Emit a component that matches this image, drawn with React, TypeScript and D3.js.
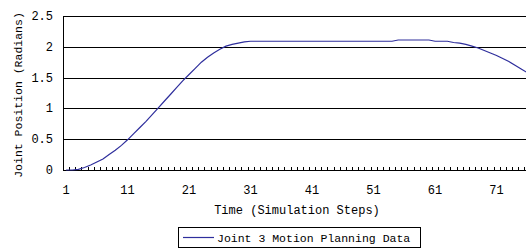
import React, { useEffect, useRef } from 'react';
import * as d3 from 'd3';

// simulation steps 1..76 (plot is cut off at the right edge)
const steps: number[] = d3.range(1, 77);
const joint3: number[] = [
  0, 0, 0.01, 0.04, 0.08, 0.13, 0.18, 0.25, 0.32, 0.4,
  0.49, 0.59, 0.69, 0.79, 0.9, 1.01, 1.12, 1.23, 1.34, 1.45,
  1.55, 1.65, 1.75, 1.83, 1.9, 1.96, 2.01, 2.04, 2.06, 2.08,
  2.09, 2.09, 2.09, 2.09, 2.09, 2.09, 2.09, 2.09, 2.09, 2.09,
  2.09, 2.09, 2.09, 2.09, 2.09, 2.09, 2.09, 2.09, 2.09, 2.09,
  2.09, 2.09, 2.09, 2.09, 2.11, 2.11, 2.11, 2.11, 2.11, 2.11,
  2.09, 2.09, 2.09, 2.07, 2.06, 2.04, 2.01, 1.98, 1.94, 1.9,
  1.86, 1.81, 1.76, 1.7, 1.64, 1.58,
];
const yTicks: number[] = [0, 0.5, 1, 1.5, 2, 2.5];
const xLabels: number[] = [1, 11, 21, 31, 41, 51, 61, 71];
const seriesName = 'Joint 3 Motion Planning Data';

const App = () => {
  const svgRef = useRef<SVGSVGElement>(null);

  useEffect(() => {
    const w = 526;
    const h = 252;
    const left = 63;
    const top = 16;
    const bottom = 170;
    const band = 6.15;
    const right = left + band * steps.length;
    const font = '"Liberation Mono", monospace';

    const svg = d3.select(svgRef.current)
      .attr('width', w)
      .attr('height', h);
    svg.selectAll('*').remove();

    const x = d3.scaleBand<number>()
      .domain(steps)
      .range([left, right])
      .padding(0);
    const y = d3.scaleLinear().domain([0, 2.5]).range([bottom, top]);

    // gridlines
    svg.append('g')
      .selectAll('line')
      .data(yTicks)
      .join('line')
      .attr('x1', left)
      .attr('x2', right)
      .attr('y1', (d) => Math.round(y(d)) + 0.5)
      .attr('y2', (d) => Math.round(y(d)) + 0.5)
      .attr('stroke', '#000')
      .attr('stroke-width', 1);

    // y axis line
    svg.append('line')
      .attr('x1', left + 0.5)
      .attr('x2', left + 0.5)
      .attr('y1', top)
      .attr('y2', bottom + 1)
      .attr('stroke', '#000');

    // x tick marks (inside, at category boundaries)
    svg.append('g')
      .selectAll('line')
      .data(steps)
      .join('line')
      .attr('x1', (d) => Math.round(x(d)!) + 0.5)
      .attr('x2', (d) => Math.round(x(d)!) + 0.5)
      .attr('y1', Math.round(y(0)))
      .attr('y2', Math.round(y(0)) - 3)
      .attr('stroke', '#000');

    // y tick labels
    svg.append('g')
      .selectAll('text')
      .data(yTicks)
      .join('text')
      .attr('x', 53)
      .attr('y', (d) => y(d) + 4)
      .attr('text-anchor', 'end')
      .style('font-family', font)
      .style('font-size', '12px')
      .text((d) => String(d));

    // x tick labels
    svg.append('g')
      .selectAll('text')
      .data(xLabels)
      .join('text')
      .attr('x', (d) => x(d)! + x.bandwidth() / 2)
      .attr('y', 194)
      .attr('text-anchor', 'middle')
      .style('font-family', font)
      .style('font-size', '12px')
      .text((d) => String(d));

    // axis titles
    svg.append('text')
      .attr('x', 297)
      .attr('y', 214)
      .attr('text-anchor', 'middle')
      .style('font-family', font)
      .style('font-size', '12px')
      .text('Time (Simulation Steps)');

    svg.append('text')
      .attr('transform', 'translate(22,95) rotate(-90)')
      .attr('text-anchor', 'middle')
      .style('font-family', font)
      .style('font-size', '11.5px')
      .text('Joint Position (Radians)');

    // series line
    const line = d3.line<number>()
      .x((d, i) => x(steps[i])! + x.bandwidth() / 2)
      .y((d) => y(d));

    svg.append('path')
      .datum(joint3)
      .attr('d', line)
      .attr('fill', 'none')
      .attr('stroke', '#2e2e9c')
      .attr('stroke-width', 1.2);

    // legend
    const lg = svg.append('g');
    lg.append('rect')
      .attr('x', 178.5)
      .attr('y', 227.5)
      .attr('width', 242)
      .attr('height', 20)
      .attr('fill', '#fff')
      .attr('stroke', '#000');
    lg.append('line')
      .attr('x1', 183)
      .attr('x2', 214)
      .attr('y1', 237.5)
      .attr('y2', 237.5)
      .attr('stroke', '#2e2e9c')
      .attr('stroke-width', 1.2);
    lg.append('text')
      .attr('x', 217)
      .attr('y', 241.5)
      .style('font-family', font)
      .style('font-size', '11.5px')
      .text(seriesName);
  }, []);

  return (
    <div style={{ position: 'absolute', left: 0, top: 0 }}>
      <svg ref={svgRef} style={{ display: 'block', background: '#fff' }}></svg>
    </div>
  );
};

export default App;
